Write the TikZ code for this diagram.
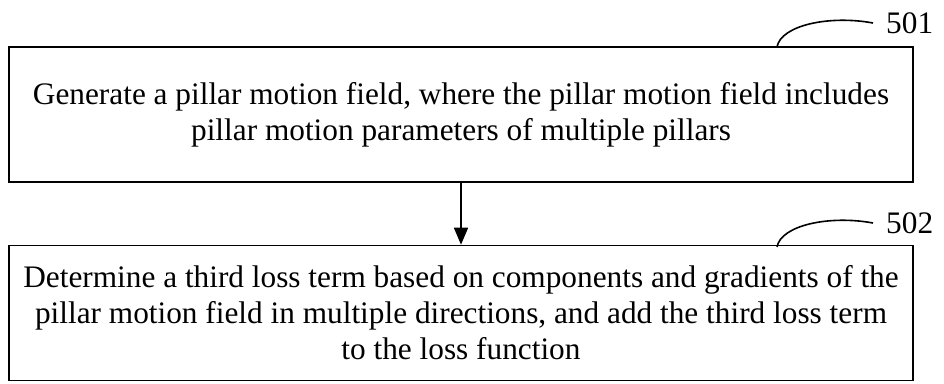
\documentclass[tikz,border=0pt]{standalone}
\usepackage{fontspec}
\setmainfont{Liberation Serif}
\usetikzlibrary{arrows.meta}
\begin{document}
\begin{tikzpicture}[x=1pt,y=-1pt,
  stepbox/.style={draw=black,line width=1.6pt,minimum width=904pt,minimum height=135pt,
    inner sep=0pt,align=center,font=\fontsize{31.3}{36}\selectfont},
  leader/.style={line width=1.6pt},
  reflabel/.style={anchor=west,inner sep=0pt,font=\fontsize{31.3}{36}\selectfont},
  flow/.style={line width=1.6pt,-{Triangle[width=14pt,length=17pt]}}]
\useasboundingbox (0,0) rectangle (944,383);
\node[stepbox] (b1) at (461,114.5) {Generate a pillar motion field, where the pillar motion field includes\\pillar motion parameters of multiple pillars};
\node[stepbox] (b2) at (461,313) {Determine a third loss term based on components and gradients of the\\pillar motion field in multiple directions, and add the third loss term\\to the loss function};
\draw[flow] (b1.south) -- (b2.north);
\node[reflabel] (l1) at (886,23) {501};
\node[reflabel] (l2) at (886,223) {502};
\coordinate (c1) at (777,47);
\coordinate (c2) at (777,247);
\draw[leader] (c1) .. controls (781,25) and (830,15) .. (l1.west -| 873,15);
\draw[leader] (c2) .. controls (781,225) and (830,215) .. (l2.west -| 873,215);
\end{tikzpicture}
\end{document}
